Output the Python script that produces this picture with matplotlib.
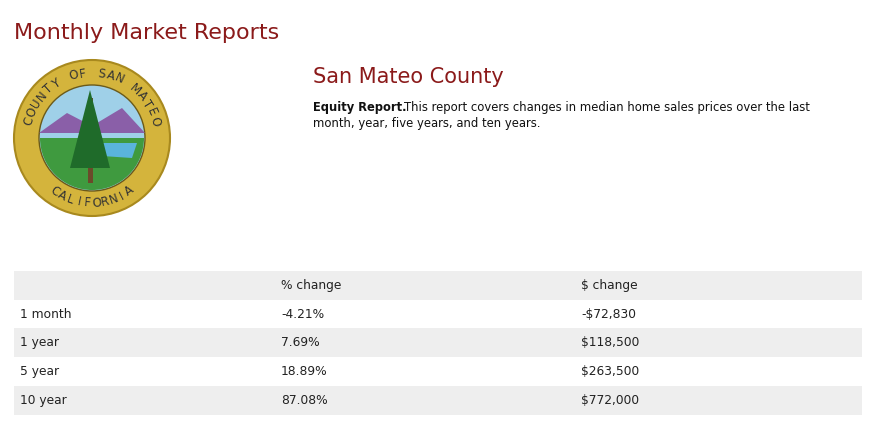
import numpy as np
import matplotlib
matplotlib.use("Agg")
import matplotlib.pyplot as plt
from matplotlib.patches import Circle, Rectangle, Polygon, Wedge

title = "Monthly Market Reports"
county = "San Mateo County"
col_headers = ["", "% change", "$ change"]
periods = ["1 month", "1 year", "5 year", "10 year"]
pct_change = ["-4.21%", "7.69%", "18.89%", "87.08%"]
usd_change = ["-$72,830", "$118,500", "$263,500", "$772,000"]

RED = "#8b1a1a"
fig = plt.figure(figsize=(8.76, 4.32), dpi=100)
ax = fig.add_axes([0, 0, 1, 1])
ax.set_xlim(0, 876); ax.set_ylim(432, 0); ax.axis("off")

ax.text(14, 33, title, fontsize=16, color=RED, va="center")
ax.text(313, 77, county, fontsize=15, color=RED, va="center")
ax.text(313, 107, "Equity Report.", fontsize=8.3, weight="bold", va="center", color="#111")
ax.text(404, 107, "This report covers changes in median home sales prices over the last",
        fontsize=8.4, va="center", color="#111")
ax.text(313, 123, "month, year, five years, and ten years.", fontsize=8.4, va="center", color="#111")

# seal
cx, cy = 92, 138
ax.add_patch(Circle((cx, cy), 78, fc="#d4b43c", ec="#a8891e", lw=1.5))
ax.add_patch(Circle((cx, cy), 53, fc="#9fd0e8", ec="#6b5a1a", lw=1))
ax.add_patch(Polygon([(cx-53, cy-5), (cx-25, cy-25), (cx, cy-12), (cx+30, cy-30), (cx+53, cy-5)],
                     closed=True, fc="#8a5fa8", ec="none"))
ax.add_patch(Wedge((cx, cy), 52, 0, 180, fc="#3f9a3f", ec="none"))
ax.add_patch(Polygon([(cx+5, cy+5), (cx+45, cy+5), (cx+40, cy+20), (cx+10, cy+18)], fc="#5ab4dc", ec="none"))
ax.add_patch(Rectangle((cx-4, cy-40), 5, 85, fc="#6b4a2a", ec="none"))
ax.add_patch(Polygon([(cx-2, cy-48), (cx-22, cy+30), (cx+18, cy+30)], fc="#1f6b2a", ec="none"))
def arc_text(s, r, a0, a1, top=True):
    angs = np.linspace(a0, a1, len(s))
    for ch, a in zip(s, angs):
        t = np.deg2rad(a)
        x = cx + r*np.cos(t); y = cy - r*np.sin(t)
        rot = a - 90 if top else a + 90
        ax.text(x, y, ch, fontsize=8.5, rotation=rot, ha="center", va="center", color="#333")
arc_text("COUNTY OF SAN MATEO", 65, 165, 15)
arc_text("CALIFORNIA", 65, 235, 305, top=False)

# table
rows = [col_headers] + [[p, a, b] for p, a, b in zip(periods, pct_change, usd_change)]
y0, h = 271, 28.7
xs = [20, 281, 581]
for i, r in enumerate(rows):
    top = y0 + i*h
    if i % 2 == 0:
        ax.add_patch(Rectangle((14, top), 848, h, fc="#eeeeee", ec="none"))
    for x, t in zip(xs, r):
        ax.text(x, top + h/2, t, fontsize=8.8, va="center", color="#222")
fig.savefig("out.png", dpi=100)
